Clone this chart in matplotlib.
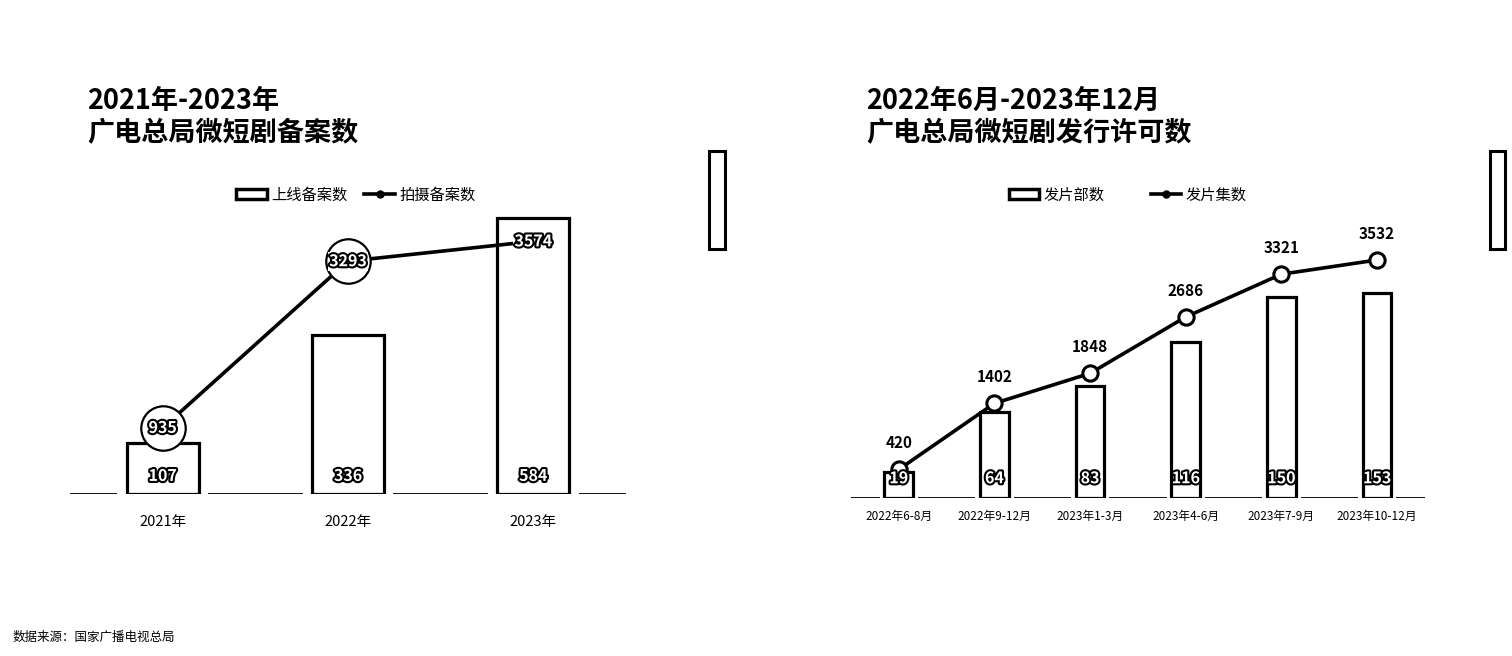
import matplotlib
matplotlib.use('Agg')
import matplotlib.pyplot as plt
import matplotlib.patheffects as pe
from matplotlib.patches import Rectangle
from matplotlib.lines import Line2D
import numpy as np

plt.rcParams['font.family'] = ['Noto Sans CJK SC', 'DejaVu Sans']

# left panel: filings per year
years = ['2021年', '2022年', '2023年']
online_filings = [107, 336, 584]
shooting_filings = [935, 3293, 3574]

# right panel: release permits per period
periods = ['2022年6-8月', '2022年9-12月', '2023年1-3月', '2023年4-6月', '2023年7-9月', '2023年10-12月']
release_titles = [19, 64, 83, 116, 150, 153]
release_episodes = [420, 1402, 1848, 2686, 3321, 3532]

stroke = [pe.withStroke(linewidth=3, foreground='black')]

fig = plt.figure(figsize=(15.12, 6.56), dpi=100)


def base_axes(rect, cats, bar_vals, bar_w, bar_max, tick_size, tick_pad):
    ax = fig.add_axes(rect)
    x = np.arange(len(cats))
    ax.axhline(0, color='black', lw=1.3, zorder=1)
    # white mask so the baseline stops a little before each bar
    ax.bar(x, bar_vals, width=bar_w + 0.1, color='white', zorder=2)
    ax.bar(x, bar_vals, width=bar_w, facecolor='white', edgecolor='black', lw=2.3, zorder=3)
    ax.set_xlim(-0.5, len(cats) - 0.5)
    ax.set_ylim(0, bar_max)
    ax.set_xticks(x)
    ax.set_xticklabels(cats, fontsize=tick_size)
    ax.tick_params(axis='x', length=0, pad=tick_pad)
    ax.set_yticks([])
    for s in ax.spines.values():
        s.set_visible(False)
    ax.patch.set_alpha(0)
    return ax, x


def twin(ax, top):
    axb = ax.twinx()
    axb.set_ylim(0, top)
    axb.set_yticks([])
    for s in axb.spines.values():
        s.set_visible(False)
    return axb


# ---- left chart ----
ax1, x1 = base_axes([0.0463, 0.2470, 0.3677, 0.448], years, online_filings,
                    0.39, 623, 10.5, 15)
ax1b = twin(ax1, 4158)
for xi, v in zip(x1, online_filings):
    ax1b.annotate(str(v), (xi, 0), xycoords=ax1.transData, xytext=(0, 13),
                  textcoords='offset points', ha='center', va='center',
                  fontsize=11.5, fontweight='bold', color='white',
                  path_effects=stroke, zorder=7)

ax1b.plot(x1, shooting_filings, color='black', lw=2.6, zorder=4)
ax1b.plot(x1, shooting_filings, ls='none', marker='o', ms=32, mfc='white',
          mec='black', mew=1.6, markevery=[0, 1], zorder=5)
for xi, v in zip(x1, shooting_filings):
    ax1b.text(xi, v, str(v), ha='center', va='center', fontsize=11.5,
              fontweight='bold', color='white', path_effects=stroke, zorder=6,
              bbox=dict(boxstyle='square,pad=0.1', fc='white', ec='none'))

# ---- right chart ----
ax2, x2 = base_axes([0.5628, 0.2413, 0.3796, 0.4538], periods, release_titles,
                    0.30, 222, 8.5, 9)
ax2b = twin(ax2, 4423)
ax2b.plot(x2, release_episodes, color='black', lw=2.6, marker='o', ms=11,
          mfc='white', mec='black', mew=2.2, zorder=4)
for xi, v in zip(x2, release_titles):
    ax2b.annotate(str(v), (xi, 0), xycoords=ax2.transData, xytext=(0, 14),
                  textcoords='offset points', ha='center', va='center',
                  fontsize=11.5, fontweight='bold', color='white',
                  path_effects=stroke, zorder=7)
for xi, v in zip(x2, release_episodes):
    ax2b.annotate(str(v), (xi, v), xytext=(0, 19), textcoords='offset points',
                  ha='center', va='center', fontsize=11, fontweight='bold',
                  color='black')

# ---- titles, legends, source ----
fig.text(0.0575, 0.846, '2021年-2023年', fontsize=19.5, fontweight='bold', va='center')
fig.text(0.0575, 0.797, '广电总局微短剧备案数', fontsize=19.5, fontweight='bold', va='center')
fig.text(0.5728, 0.846, '2022年6月-2023年12月', fontsize=19.5, fontweight='bold', va='center')
fig.text(0.5728, 0.797, '广电总局微短剧发行许可数', fontsize=19.5, fontweight='bold', va='center')

bar_handle = Rectangle((0, 0), 1, 1, facecolor='white', edgecolor='black', lw=2.5)
line_handle = Line2D([], [], color='black', lw=2.6, marker='o', ms=5)

fig.legend([bar_handle, line_handle], ['上线备案数', '拍摄备案数'], loc='center',
           bbox_to_anchor=(0.2355, 0.7027), ncol=2, frameon=False, fontsize=11,
           handlelength=2.0, handleheight=0.6, handletextpad=0.3, columnspacing=1.1)
fig.legend([bar_handle, line_handle], ['发片部数', '发片集数'], loc='center',
           bbox_to_anchor=(0.746, 0.7027), ncol=2, frameon=False, fontsize=11,
           handlelength=2.0, handleheight=0.6, handletextpad=0.3, columnspacing=3.0)

# the two outlined side boxes
fig.patches.append(Rectangle((0.469, 0.6204), 0.0106, 0.149, transform=fig.transFigure,
                             fill=False, edgecolor='black', lw=2.2))
fig.patches.append(Rectangle((0.9854, 0.6204), 0.0099, 0.149, transform=fig.transFigure,
                             fill=False, edgecolor='black', lw=2.2))

fig.text(0.008, 0.029, '数据来源：国家广播电视总局', fontsize=9, va='center')

fig.savefig('out.png', dpi=100, facecolor='white')
